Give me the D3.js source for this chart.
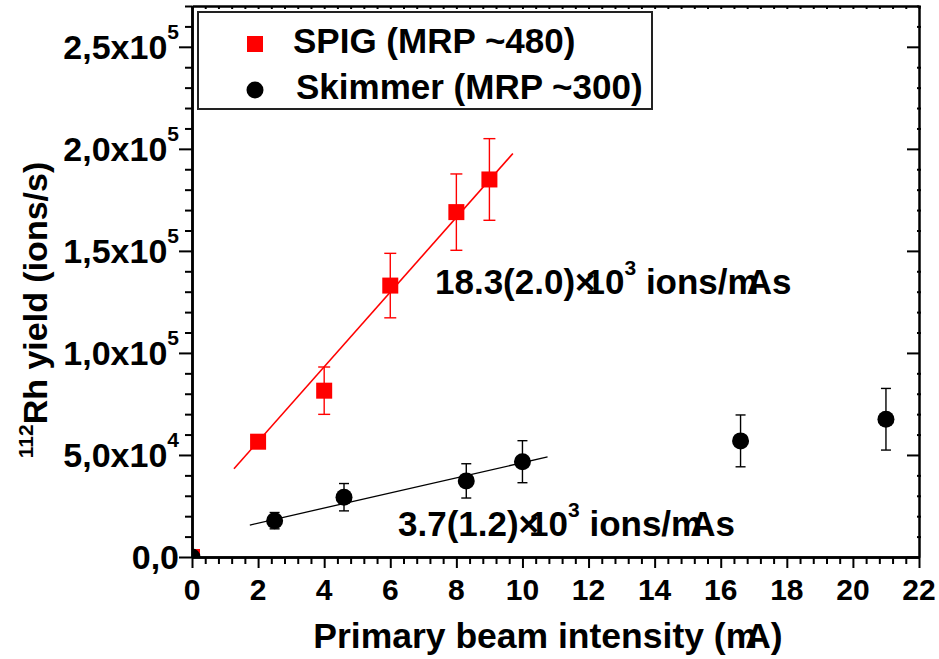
<!DOCTYPE html>
<html>
<head>
<meta charset="utf-8">
<script src="https://cdn.jsdelivr.net/npm/d3@7"></script>
<style>
  body { margin: 0; background: #fff; }
  text { font-family: "Liberation Sans", Arial, sans-serif; font-weight: bold; fill: #000; }
</style>
</head>
<body>
<svg id="chart" width="939" height="659"></svg>
<script>
// Measured 112Rh yields vs primary beam current
const spigCurrent = [0, 2, 4, 6, 8, 9];
const spigYield = [0, 56500, 81500, 133000, 169000, 185000];
const spigError = [0, 3000, 11600, 15800, 18700, 20000];

const skimmerCurrent = [0, 2.5, 4.6, 8.3, 10, 16.6, 21];
const skimmerYield = [0, 17800, 29300, 37300, 46700, 56900, 67500];
const skimmerError = [0, 4000, 6700, 8400, 10300, 12700, 15100];

// Linear fits: yield = slope * current + intercept
const fitSlopes = [18300, 3700];
const fitIntercepts = [20000, 9200];
const fitStart = [1.27, 1.75];
const fitEnd = [9.71, 10.76];

const seriesNames = ["SPIG (MRP ~480)", "Skimmer (MRP ~300)"];
const fitLabelValues = ["18.3(2.0)", "3.7(1.2)"];

const xMajorTicks = [0, 2, 4, 6, 8, 10, 12, 14, 16, 18, 20, 22];
const yMajorTicks = [0, 50000, 100000, 150000, 200000, 250000];
const yTickMantissa = ["0,0", "5,0x10", "1,0x10", "1,5x10", "2,0x10", "2,5x10"];
const yTickExponent = ["", "4", "5", "5", "5", "5"];

const svg = d3.select("#chart");
const plotL = 192, plotR = 919, plotT = 6, plotB = 557;
const x = d3.scaleLinear().domain([0, 22]).range([plotL, plotR]);
const y = d3.scaleLinear().domain([0, 270000]).range([plotB, plotT]);

const xMinor = d3.range(0, 22.001, 0.4).filter(v => Math.abs(v / 2 - Math.round(v / 2)) > 1e-6);
const yMinor = d3.range(0, 270001, 10000).filter(v => v % 50000 !== 0);

svg.append("defs").append("clipPath").attr("id", "plotClip")
  .append("rect").attr("x", plotL).attr("y", plotT).attr("width", plotR - plotL).attr("height", plotB - plotT);

function styleAxis(g) {
  g.selectAll("path.domain").attr("stroke", "#000").attr("stroke-width", 2.5);
  g.selectAll(".tick line").attr("stroke", "#000").attr("stroke-width", 2);
  g.selectAll(".tick text").remove();
}

// bottom axis
svg.append("g").attr("transform", `translate(0,${plotB})`)
  .call(d3.axisBottom(x).tickValues(xMinor).tickSize(7).tickSizeOuter(0).tickFormat(""))
  .call(styleAxis);
svg.append("g").attr("transform", `translate(0,${plotB})`)
  .call(d3.axisBottom(x).tickValues(xMajorTicks).tickSize(11).tickSizeOuter(0).tickFormat(""))
  .call(styleAxis);
// top axis
svg.append("g").attr("transform", `translate(0,${plotT})`)
  .call(d3.axisBottom(x).tickValues(xMinor.concat(xMajorTicks)).tickSize(3).tickSizeOuter(0).tickFormat(""))
  .call(styleAxis);
// left axis
svg.append("g").attr("transform", `translate(${plotL},0)`)
  .call(d3.axisLeft(y).tickValues(yMinor).tickSize(7).tickSizeOuter(0).tickFormat(""))
  .call(styleAxis);
svg.append("g").attr("transform", `translate(${plotL},0)`)
  .call(d3.axisLeft(y).tickValues(yMajorTicks).tickSize(13).tickSizeOuter(0).tickFormat(""))
  .call(styleAxis);
// right axis
svg.append("g").attr("transform", `translate(${plotR},0)`)
  .call(d3.axisLeft(y).tickValues(yMajorTicks).tickSize(12).tickSizeOuter(0).tickFormat(""))
  .call(styleAxis);
svg.append("g").attr("transform", `translate(${plotR + 2},0)`)
  .call(d3.axisLeft(y).tickValues(yMinor).tickSize(4).tickSizeOuter(0).tickFormat(""))
  .call(styleAxis)
  .select("path.domain").remove();

// x tick labels
svg.append("g").selectAll("text").data(xMajorTicks).join("text")
  .attr("x", d => x(d)).attr("y", 600)
  .attr("text-anchor", "middle").attr("font-size", 30)
  .text(d => d);

// y tick labels
const yLab = svg.append("g").selectAll("text").data(yMajorTicks).join("text")
  .attr("x", 179).attr("y", d => y(d) + 12)
  .attr("text-anchor", "end").attr("font-size", 34);
yLab.append("tspan").text((d, i) => yTickMantissa[i]);
yLab.append("tspan").attr("font-size", 21).attr("dy", -20).text((d, i) => yTickExponent[i]);

// axis titles
svg.append("text").attr("x", 548).attr("y", 648).attr("text-anchor", "middle")
  .attr("font-size", 35.5)
  .call(t => {
    t.append("tspan").text("Primary beam intensity (");
    t.append("tspan").text("m");
    t.append("tspan").attr("dx", -12).text("A)");
  });

const yTitle = svg.append("text")
  .attr("transform", "translate(47,310) rotate(-90)")
  .attr("text-anchor", "middle").attr("font-size", 34);
yTitle.append("tspan").attr("font-size", 21).attr("dy", -14).text("112");
yTitle.append("tspan").attr("dy", 14).text("Rh yield (ions/s)");

// data layer
const plot = svg.append("g").attr("clip-path", "url(#plotClip)");

// fit lines
const fitColors = ["#ff0000", "#000000"];
const fitWidths = [1.6, 1.3];
fitSlopes.forEach((s, i) => {
  const pts = [fitStart[i], fitEnd[i]].map(c => [x(c), y(s * c + fitIntercepts[i])]);
  plot.append("path").attr("d", d3.line()(pts))
    .attr("fill", "none").attr("stroke", fitColors[i]).attr("stroke-width", fitWidths[i]);
});

// error bars
function errorBars(cur, val, err, color, cap) {
  const g = plot.append("g").attr("stroke", color).attr("stroke-width", 1.4);
  cur.forEach((c, i) => {
    if (err[i] <= 0) return;
    const cx = x(c), y1 = y(val[i] - err[i]), y2 = y(val[i] + err[i]);
    g.append("line").attr("x1", cx).attr("x2", cx).attr("y1", y1).attr("y2", y2);
    g.append("line").attr("x1", cx - cap).attr("x2", cx + cap).attr("y1", y1).attr("y2", y1);
    g.append("line").attr("x1", cx - cap).attr("x2", cx + cap).attr("y1", y2).attr("y2", y2);
  });
}
errorBars(spigCurrent, spigYield, spigError, "#ff0000", 6);
errorBars(skimmerCurrent, skimmerYield, skimmerError, "#000000", 5);

// markers
plot.append("g").selectAll("rect").data(spigCurrent).join("rect")
  .attr("x", d => x(d) - 8).attr("y", (d, i) => y(spigYield[i]) - 8)
  .attr("width", 16).attr("height", 16).attr("fill", "#ff0000");
plot.append("g").selectAll("circle").data(skimmerCurrent).join("circle")
  .attr("cx", d => x(d)).attr("cy", (d, i) => y(skimmerYield[i])).attr("r", 8.5)
  .attr("fill", "#000");

// fit annotations
const fitLabelPos = [[435, 294], [398, 536]];
fitLabelValues.forEach((v, i) => {
  const t = svg.append("text").attr("x", fitLabelPos[i][0]).attr("y", fitLabelPos[i][1])
    .attr("font-size", 35);
  t.append("tspan").text(v + "\u00d7");
  t.append("tspan").attr("dx", -10).text("10");
  t.append("tspan").attr("font-size", 21).attr("dy", -19).text("3");
  t.append("tspan").attr("dy", 19).text(" ions/m");
  t.append("tspan").attr("dx", -12).text("As");
});

// legend
const lg = svg.append("g");
lg.append("rect").attr("x", 198).attr("y", 12).attr("width", 454).attr("height", 97)
  .attr("fill", "#fff").attr("stroke", "#222").attr("stroke-width", 2);
lg.append("rect").attr("x", 247).attr("y", 36).attr("width", 16).attr("height", 16).attr("fill", "#ff0000");
lg.append("circle").attr("cx", 255).attr("cy", 90).attr("r", 8.5).attr("fill", "#000");
lg.append("text").attr("x", 293).attr("y", 53).attr("font-size", 35).text(seriesNames[0]);
lg.append("text").attr("x", 296).attr("y", 99).attr("font-size", 35).text(seriesNames[1]);
</script>
</body>
</html>
